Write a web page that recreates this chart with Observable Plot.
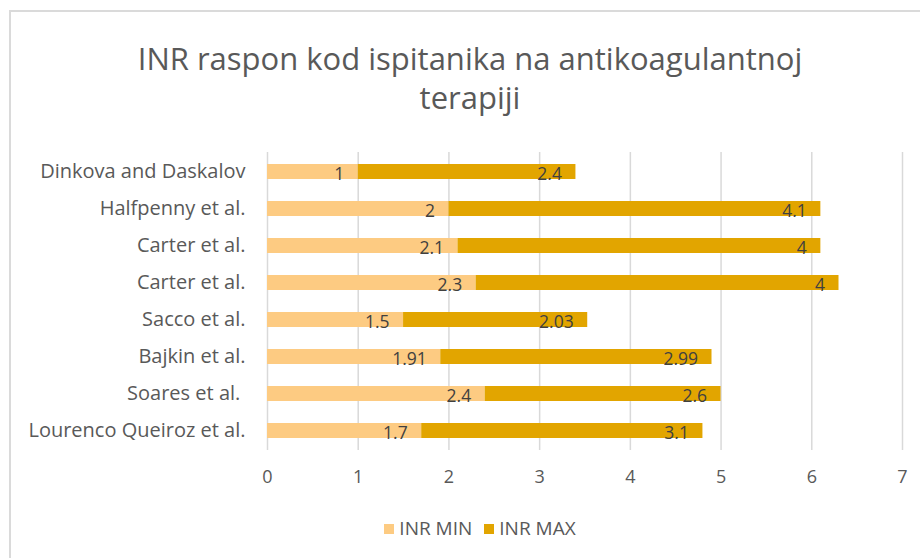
<!DOCTYPE html>
<html><head><meta charset="utf-8">
<script src="https://cdn.jsdelivr.net/npm/d3@7"></script>
<script src="https://cdn.jsdelivr.net/npm/@observablehq/plot@0.6"></script>
<style>
body{margin:0;background:#fff;}
#wrap{position:relative;width:920px;height:558px;overflow:hidden;font-family:"Open Sans",Lato,sans-serif;background:#fff;}
#frame{position:absolute;left:9px;top:10px;width:1000px;height:1000px;border-top:2px solid #dadada;border-left:2px solid #dadada;}
#title{position:absolute;left:20px;width:900px;top:39px;text-align:center;font-size:31px;line-height:39px;color:#595959;}
#chart{position:absolute;left:0;top:140px;}
#legend{position:absolute;left:20px;width:920px;top:515px;text-align:center;font-size:19px;color:#595959;}
#legend span.item{display:inline-block;margin:0 6px;}
#legend span.sw{display:inline-block;width:10px;height:10px;margin-right:5px;vertical-align:1px;}
</style>
</head><body>
<div id="wrap">
  <div id="frame"></div>
  <div id="title">INR raspon kod ispitanika na antikoagulantnoj<br>terapiji</div>
  <div id="chart"></div>
  <div id="legend"></div>
</div>
<script>
const studies = ["Dinkova and Daskalov","Halfpenny et al.","Carter et al.","Carter et al.","Sacco et al.","Bajkin et al.","Soares et al.\u00a0","Lourenco Queiroz et al."];
const inrMin = [1, 2, 2.1, 2.3, 1.5, 1.91, 2.4, 1.7];
const inrMax = [2.4, 4.1, 4, 4, 2.03, 2.99, 2.6, 3.1];
const seriesNames = ["INR MIN", "INR MAX"];
const seriesColors = ["#FDCB82", "#E2A500"];
const xTicks = [0, 1, 2, 3, 4, 5, 6, 7];

const rows = [];
studies.forEach((s, i) => {
  rows.push({id: i, series: seriesNames[0], value: inrMin[i]});
  rows.push({id: i, series: seriesNames[1], value: inrMax[i]});
});
const ids = studies.map((s, i) => i);

const chart = Plot.plot({
  width: 920,
  height: 360,
  marginLeft: 267,
  marginRight: 18,
  marginTop: 12,
  marginBottom: 50,
  style: {fontFamily: "'Open Sans', Lato, sans-serif", fontSize: "16px", color: "#595959", background: "transparent"},
  x: {domain: [0, 7], axis: null},
  y: {domain: ids, paddingInner: 0.6, paddingOuter: 0.3, axis: null},
  color: {domain: seriesNames, range: seriesColors},
  marks: [
    Plot.ruleX(xTicks, {stroke: "#d9d9d9", strokeWidth: 1.5}),
    Plot.barX(rows, Plot.stackX({x: "value", y: "id", fill: "series", order: seriesNames})),
    Plot.textX(rows, Plot.stackX2({x: "value", y: "id", z: "series", order: seriesNames, text: d => String(d.value), textAnchor: "end", dx: -14, dy: 2, fill: "#404040", fontSize: 17.5})),
    Plot.axisX({ticks: xTicks, tickSize: 0, tickPadding: 20, fontSize: 18, label: null, tickFormat: d => String(d)}),
    Plot.axisY({tickSize: 0, tickPadding: 22, fontSize: 20, label: null, tickFormat: i => studies[i]})
  ]
});
document.getElementById("chart").appendChild(chart);

const leg = document.getElementById("legend");
seriesNames.forEach((n, k) => {
  const item = document.createElement("span");
  item.className = "item";
  const sw = document.createElement("span");
  sw.className = "sw";
  sw.style.background = seriesColors[k];
  item.appendChild(sw);
  item.appendChild(document.createTextNode(n));
  leg.appendChild(item);
});
</script>
</body></html>
